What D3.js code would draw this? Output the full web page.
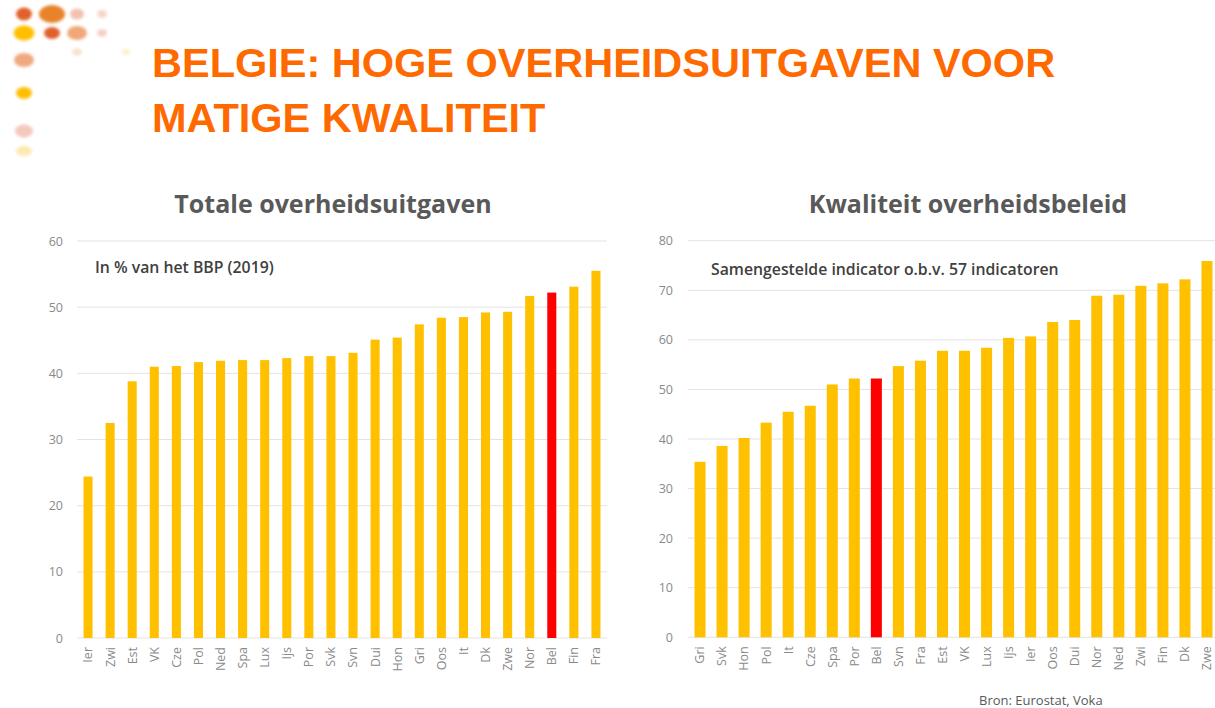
<!DOCTYPE html>
<html>
<head>
<meta charset="utf-8">
<script src="https://cdn.jsdelivr.net/npm/d3@7"></script>
<style>
  body { margin: 0; background: #fff; }
  svg { display: block; }
</style>
</head>
<body>
<svg id="chart" width="1215" height="708"></svg>
<script>
// left chart: totale overheidsuitgaven (% BBP, 2019)
var spendCountries = ["Ier","Zwi","Est","VK","Cze","Pol","Ned","Spa","Lux","Ijs","Por","Svk",
    "Svn","Dui","Hon","Gri","Oos","It","Dk","Zwe","Nor","Bel","Fin","Fra"];
var spendValues = [24.4,32.5,38.8,41.0,41.1,41.7,41.9,42.0,42.0,42.3,42.6,42.6,
    43.1,45.1,45.4,47.4,48.4,48.5,49.2,49.3,51.7,52.2,53.1,55.5];
var spendTicks = [0,10,20,30,40,50,60];

// right chart: kwaliteit overheidsbeleid
var qualCountries = ["Gri","Svk","Hon","Pol","It","Cze","Spa","Por","Bel","Svn","Fra","Est",
    "VK","Lux","Ijs","Ier","Oos","Dui","Nor","Ned","Zwi","Fin","Dk","Zwe"];
var qualValues = [35.4,38.6,40.2,43.3,45.5,46.7,51.0,52.2,52.2,54.7,55.8,57.8,
    57.8,58.4,60.4,60.7,63.6,64.0,68.9,69.1,70.9,71.4,72.2,75.9];
var qualTicks = [0,10,20,30,40,50,60,70,80];

var highlight = "Bel";

var svg = d3.select("#chart");

// decorative dots top-left
var deco = [
    {x:24, y:14, rx:8, ry:6.5, c:"#e2602a"},
    {x:52, y:14, rx:13, ry:9, c:"#e8832c"},
    {x:77, y:14, rx:7, ry:5.5, c:"#f3c3ae"},
    {x:102, y:14, rx:5, ry:4, c:"#f6d6cc"},
    {x:24, y:33, rx:10.5, ry:7.5, c:"#ffbf00"},
    {x:52, y:33, rx:8, ry:6, c:"#e0602a"},
    {x:77, y:33, rx:10, ry:7, c:"#f0a878"},
    {x:102, y:33, rx:5, ry:4, c:"#f6d0c8"},
    {x:77, y:52, rx:5, ry:3.5, c:"#fae0c8"},
    {x:126, y:52, rx:4, ry:3, c:"#fdf0c8"},
    {x:24, y:60, rx:10, ry:7, c:"#f0a880"},
    {x:24, y:93, rx:8, ry:6, c:"#ffbf00"},
    {x:24, y:131, rx:9, ry:6.5, c:"#f5c8bc"},
    {x:24, y:151, rx:8, ry:5, c:"#fde8b0"}
];

var defs = svg.append("defs");
defs.append("filter").attr("id", "soft")
    .attr("x", "-50%").attr("y", "-50%").attr("width", "200%").attr("height", "200%")
  .append("feGaussianBlur").attr("stdDeviation", 1.8);

svg.append("g").attr("filter", "url(#soft)")
    .selectAll("ellipse")
    .data(deco)
    .enter().append("ellipse")
    .attr("cx", function(d) { return d.x; })
    .attr("cy", function(d) { return d.y; })
    .attr("rx", function(d) { return d.rx; })
    .attr("ry", function(d) { return d.ry; })
    .style("fill", function(d) { return d.c; });

// main title
var title = svg.append("text")
    .attr("x", 152)
    .attr("y", 77)
    .style("font-family", "'Liberation Sans', Arial, sans-serif")
    .style("font-weight", "bold")
    .style("font-size", "41.5px")
    .style("fill", "#ff6a00");
title.append("tspan").attr("x", 152).attr("y", 77).text("BELGIE: HOGE OVERHEIDSUITGAVEN VOOR");
title.append("tspan").attr("x", 152).attr("y", 132).text("MATIGE KWALITEIT");

function drawChart(cfg) {
    var g = svg.append("g");

    var x = d3.scaleBand()
        .domain(cfg.cats)
        .range(cfg.xRange)
        .paddingInner(cfg.pad)
        .paddingOuter(cfg.pad / 2);

    var y = d3.scaleLinear()
        .domain([0, cfg.ticks[cfg.ticks.length - 1]])
        .range(cfg.yRange);

    // gridlines
    g.selectAll(".grid")
        .data(cfg.ticks)
        .enter().append("line")
        .attr("x1", cfg.gridX[0])
        .attr("x2", cfg.gridX[1])
        .attr("y1", function(d) { return y(d); })
        .attr("y2", function(d) { return y(d); })
        .attr("stroke", "#e3e3e3")
        .attr("stroke-width", 1);

    // y axis labels
    var yAxis = g.append("g")
        .attr("transform", "translate(" + cfg.gridX[0] + ",0)")
        .call(d3.axisLeft(y).tickValues(cfg.ticks).tickSize(0).tickPadding(cfg.tickPad));
    yAxis.select(".domain").remove();
    yAxis.selectAll("text")
        .style("font-family", "'Open Sans', sans-serif")
        .style("font-size", "12.5px")
        .style("fill", "#8a8a8a");

    // bars
    g.selectAll(".bar")
        .data(cfg.cats)
        .enter().append("rect")
        .attr("x", function(d) { return x(d); })
        .attr("width", x.bandwidth())
        .attr("y", function(d, i) { return y(cfg.vals[i]); })
        .attr("height", function(d, i) { return y(0) - y(cfg.vals[i]); })
        .style("fill", function(d) { return d == highlight ? "#ff0000" : "#ffc000"; });

    // x axis labels, rotated
    var xAxis = g.append("g")
        .attr("transform", "translate(0," + y(0) + ")")
        .call(d3.axisBottom(x).tickSize(0));
    xAxis.select(".domain").remove();
    xAxis.selectAll("text")
        .attr("transform", "rotate(-90)")
        .attr("x", -9)
        .attr("y", 0)
        .attr("dy", "0.35em")
        .attr("text-anchor", "end")
        .style("font-family", "'Open Sans', sans-serif")
        .style("font-size", "12.5px")
        .style("fill", "#8a8a8a");

    // chart title
    g.append("text")
        .attr("x", cfg.titleX)
        .attr("y", 213)
        .attr("text-anchor", "middle")
        .style("font-family", "'Open Sans', sans-serif")
        .style("font-weight", "700")
        .style("font-size", "25px")
        .style("fill", "#595959")
        .text(cfg.title);

    // note inside plot
    g.append("text")
        .attr("x", cfg.noteX)
        .attr("y", cfg.noteY)
        .style("font-family", "'Open Sans', sans-serif")
        .style("font-weight", "600")
        .style("font-size", "15.8px")
        .style("fill", "#404040")
        .text(cfg.note);
}

drawChart({
    cats: spendCountries,
    vals: spendValues,
    ticks: spendTicks,
    xRange: [77, 607],
    yRange: [638, 241],
    gridX: [77, 607],
    pad: 0.59,
    tickPad: 14,
    title: "Totale overheidsuitgaven",
    titleX: 333,
    note: "In % van het BBP (2019)",
    noteX: 95,
    noteY: 273
});

drawChart({
    cats: qualCountries,
    vals: qualValues,
    ticks: qualTicks,
    xRange: [689, 1218],
    yRange: [637.3, 240.7],
    gridX: [688, 1215],
    pad: 0.5,
    tickPad: 15,
    title: "Kwaliteit overheidsbeleid",
    titleX: 968,
    note: "Samengestelde indicator o.b.v. 57 indicatoren",
    noteX: 711,
    noteY: 275
});

// source
svg.append("text")
    .attr("x", 979)
    .attr("y", 705)
    .style("font-family", "'Open Sans', sans-serif")
    .style("font-size", "13px")
    .style("fill", "#595959")
    .text("Bron:  Eurostat, Voka");
</script>
</body>
</html>
